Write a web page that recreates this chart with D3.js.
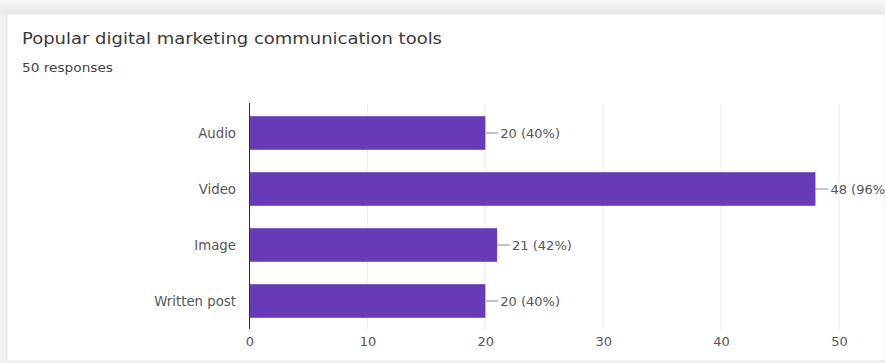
<!DOCTYPE html>
<html>
<head>
<meta charset="utf-8">
<script src="https://cdn.jsdelivr.net/npm/d3@7"></script>
<style>
  body { margin: 0; background: #f1f1f1; }
  svg { display: block; font-family: "DejaVu Sans", Verdana, sans-serif; }
</style>
</head>
<body>
<svg id="chart" width="885" height="363"></svg>
<script>
var categories = ["Audio", "Video", "Image", "Written post"];
var counts = [20, 48, 21, 20];
var percents = [40, 96, 42, 40];
var tickValues = [0, 10, 20, 30, 40, 50];

var svg = d3.select("#chart");
var width = 885, height = 363;

// card
var defs = svg.append("defs");
var grad = defs.append("linearGradient").attr("id", "topShade")
    .attr("x1", 0).attr("y1", 0).attr("x2", 0).attr("y2", 1);
grad.append("stop").attr("offset", "0%").attr("stop-color", "#f8f8f8");
grad.append("stop").attr("offset", "100%").attr("stop-color", "#e8e8e8");
svg.append("rect").attr("x", 0).attr("y", 0).attr("width", width).attr("height", 14)
    .attr("fill", "url(#topShade)");
svg.append("rect").attr("x", 7).attr("y", 14).attr("width", width - 7).attr("height", 347)
    .attr("fill", "#fff").attr("stroke", "#e6e6e6");

svg.append("text").attr("x", 22).attr("y", 44)
    .attr("font-size", 15).attr("fill", "#3a3a3a")
    .attr("textLength", 420).attr("lengthAdjust", "spacingAndGlyphs")
    .text("Popular digital marketing communication tools");
svg.append("text").attr("x", 22).attr("y", 72)
    .attr("font-size", 11.5).attr("fill", "#444")
    .attr("textLength", 91).attr("lengthAdjust", "spacingAndGlyphs")
    .text("50 responses");

var x = d3.scaleLinear().domain([0, 50]).range([249.5, 839]);
var y = d3.scaleBand().domain(categories).range([105, 329]).paddingInner(0.4).paddingOuter(0.2);

// gridlines
svg.append("g").selectAll("line").data(tickValues.slice(1)).enter().append("line")
    .attr("x1", function (d) { return x(d); })
    .attr("x2", function (d) { return x(d); })
    .attr("y1", 104).attr("y2", 330)
    .attr("stroke", "#ebebeb");

// bars
var data = categories.map(function (c, i) { return { cat: c, count: counts[i], pct: percents[i] }; });
svg.append("g").selectAll("rect").data(data).enter().append("rect")
    .attr("x", x(0))
    .attr("y", function (d) { return y(d.cat); })
    .attr("width", function (d) { return x(d.count) - x(0); })
    .attr("height", y.bandwidth())
    .attr("fill", "#673ab7");

// leader lines + labels
var labels = svg.append("g").selectAll("g").data(data).enter().append("g")
    .attr("transform", function (d) { return "translate(" + x(d.count) + "," + (y(d.cat) + y.bandwidth() / 2) + ")"; });
labels.append("line").attr("x1", 0).attr("x2", 13).attr("stroke", "#888");
labels.append("text").attr("x", 15).attr("dy", "0.35em")
    .attr("font-size", 13).attr("fill", "#555")
    .text(function (d) { return d.count + " (" + d.pct + "%)"; });

// y axis
svg.append("line").attr("x1", x(0)).attr("x2", x(0)).attr("y1", 103).attr("y2", 329)
    .attr("stroke", "#333");
svg.append("g").selectAll("text").data(categories).enter().append("text")
    .attr("x", 236)
    .attr("y", function (d) { return y(d) + y.bandwidth() / 2; })
    .attr("dy", "0.35em").attr("text-anchor", "end")
    .attr("font-size", 13.3).attr("fill", "#555")
    .text(function (d) { return d; });

// x tick labels
var xAxis = d3.axisBottom(x).tickValues(tickValues).tickSize(0).tickPadding(0);
var gx = svg.append("g").attr("transform", "translate(0,329)").call(xAxis);
gx.select(".domain").remove();
gx.selectAll("text").attr("y", 8).attr("dy", "0.71em")
    .attr("font-size", 13).attr("fill", "#555").attr("font-family", "DejaVu Sans, Verdana, sans-serif");
</script>
</body>
</html>
